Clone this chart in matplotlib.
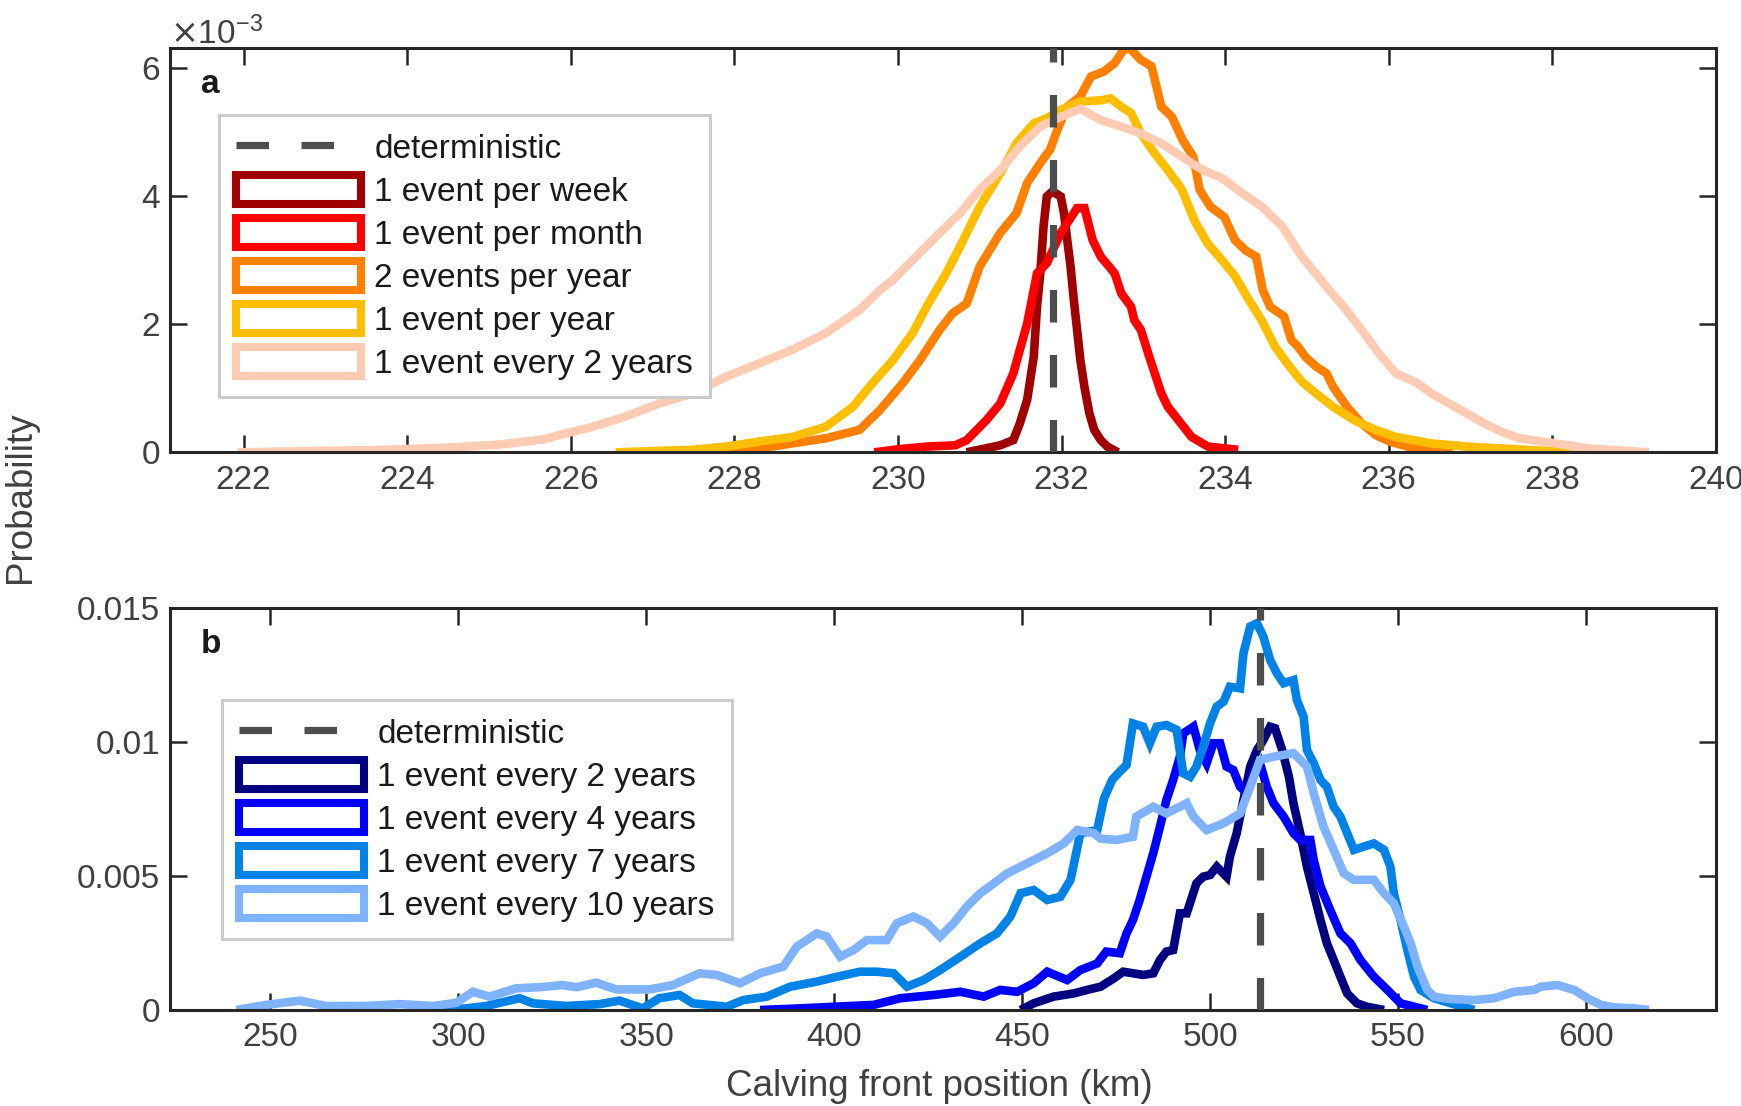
import matplotlib
matplotlib.use("Agg")
import matplotlib.pyplot as plt
from matplotlib.patches import Patch
from matplotlib.lines import Line2D
from matplotlib.ticker import ScalarFormatter, FuncFormatter, FixedLocator

plt.rcParams['font.family'] = ['Liberation Sans', 'DejaVu Sans']

# ---------------- Panel a data (x in km, probability in units of 1e-3) ----------------
deterministic_a = 231.9

week_x = [230.84, 231.25, 231.41, 231.49, 231.58, 231.66, 231.70, 231.74, 231.78, 231.82,
          231.89, 231.99, 232.03, 232.07, 232.11, 232.15, 232.19, 232.23, 232.28, 232.34,
          232.40, 232.48, 232.56, 232.69]
week_y = [0.0, 0.11, 0.19, 0.45, 0.82, 1.49, 2.27, 2.79, 3.52, 3.99,
          4.07, 3.99, 3.73, 3.31, 2.90, 2.38, 1.91, 1.44, 1.02, 0.61,
          0.35, 0.19, 0.09, 0.0]

month_x = [229.71, 230.02, 230.35, 230.70, 230.84, 231.08, 231.25, 231.41, 231.58, 231.70,
           231.82, 231.99, 232.19, 232.28, 232.38, 232.48, 232.58, 232.65, 232.73, 232.85,
           232.89, 232.97, 233.06, 233.14, 233.22, 233.30, 233.43, 233.59, 233.79, 234.16]
month_y = [0.0, 0.05, 0.09, 0.11, 0.19, 0.50, 0.76, 1.23, 2.01, 2.79,
           2.95, 3.42, 3.81, 3.81, 3.31, 3.05, 2.90, 2.79, 2.48, 2.27,
           2.06, 1.91, 1.54, 1.23, 0.92, 0.71, 0.50, 0.24, 0.09, 0.04]

twice_x = [227.53, 228.31, 228.71, 229.12, 229.53, 229.78, 230.06, 230.27, 230.51, 230.67,
           230.84, 231.00, 231.25, 231.45, 231.58, 231.74, 231.86, 231.95, 232.07, 232.23,
           232.36, 232.52, 232.65, 232.77, 232.85, 232.97, 233.10, 233.22, 233.35, 233.48,
           233.61, 233.69, 233.82, 233.99, 234.12, 234.25, 234.38, 234.46, 234.55, 234.72,
           234.81, 234.89, 234.98, 235.11, 235.24, 235.32, 235.49, 235.67, 235.84, 236.01,
           236.31, 236.78]
twice_y = [0.0, 0.06, 0.14, 0.22, 0.35, 0.66, 1.08, 1.44, 1.91, 2.17,
           2.32, 2.90, 3.42, 3.73, 4.20, 4.51, 4.72, 5.03, 5.39, 5.55,
           5.86, 5.94, 6.07, 6.30, 6.28, 6.12, 6.02, 5.39, 5.23, 4.87,
           4.61, 4.09, 3.83, 3.67, 3.31, 3.15, 3.05, 2.53, 2.27, 2.12,
           1.75, 1.65, 1.49, 1.34, 1.23, 1.02, 0.71, 0.45, 0.27, 0.17,
           0.06, 0.0]

yearly_x = [226.55, 227.49, 227.90, 228.31, 228.71, 229.12, 229.45, 229.69, 229.94, 230.18,
            230.35, 230.59, 230.76, 231.00, 231.25, 231.45, 231.66, 231.82, 231.99, 232.23,
            232.48, 232.60, 232.73, 232.85, 232.97, 233.14, 233.30, 233.47, 233.63, 233.79,
            233.96, 234.12, 234.28, 234.45, 234.61, 234.78, 234.94, 235.11, 235.32, 235.58,
            235.84, 236.09, 236.52, 236.95, 237.38, 238.24]
yearly_y = [0.0, 0.04, 0.09, 0.17, 0.24, 0.40, 0.71, 1.08, 1.44, 1.86,
            2.27, 2.79, 3.21, 3.83, 4.35, 4.82, 5.13, 5.21, 5.34, 5.47,
            5.49, 5.52, 5.39, 5.29, 4.97, 4.66, 4.40, 4.10, 3.60, 3.25,
            3.00, 2.75, 2.40, 2.05, 1.65, 1.35, 1.10, 0.92, 0.71, 0.50,
            0.35, 0.24, 0.14, 0.09, 0.06, 0.0]

biennial_x = [221.93, 223.76, 224.44, 225.12, 225.66, 225.86, 226.27, 226.67, 227.08, 227.49,
              227.90, 228.31, 228.71, 229.12, 229.53, 229.78, 229.94, 230.26, 230.51, 230.76,
              231.00, 231.25, 231.49, 231.74, 231.99, 232.23, 232.48, 232.73, 232.97, 233.22,
              233.47, 233.73, 233.96, 234.20, 234.45, 234.70, 234.94, 235.24, 235.45, 235.67,
              235.88, 236.09, 236.35, 236.52, 236.74, 236.95, 237.17, 237.38, 237.60, 238.03,
              238.45, 239.18]
biennial_y = [0.0, 0.04, 0.07, 0.12, 0.20, 0.27, 0.40, 0.56, 0.76, 0.92,
              1.18, 1.39, 1.60, 1.86, 2.22, 2.53, 2.69, 3.10, 3.42, 3.73,
              4.10, 4.40, 4.77, 5.08, 5.23, 5.36, 5.18, 5.08, 4.97, 4.82,
              4.61, 4.40, 4.28, 4.05, 3.83, 3.52, 3.05, 2.58, 2.27, 1.91,
              1.54, 1.23, 1.08, 0.92, 0.76, 0.61, 0.45, 0.32, 0.22, 0.14,
              0.06, 0.0]

labels_a = ['1 event per week', '1 event per month', '2 events per year',
            '1 event per year', '1 event every 2 years']
colors_a = ['#A00000', '#FF0000', '#FF8000', '#FFBF00', '#FFCBB3']

# ---------------- Panel b data (x in km, probability in units of 1e-3) ----------------
deterministic_b = 513.3

b2_x = [449.6, 453.1, 458.4, 463.8, 467.3, 470.9, 474.4, 476.9, 482.2, 484.9,
        486.7, 488.4, 490.2, 492.0, 493.8, 496.4, 498.2, 500.0, 501.8, 504.4,
        505.3, 507.1, 508.9, 510.7, 512.5, 514.2, 516.0, 517.3, 519.2, 521.0,
        522.2, 524.0, 525.8, 527.6, 529.4, 531.1, 532.9, 534.7, 536.5, 539.1,
        541.8, 546.3]
b2_y = [0.0, 0.25, 0.50, 0.62, 0.75, 0.87, 1.18, 1.43, 1.31, 1.37,
        1.87, 2.18, 2.24, 3.61, 3.61, 4.73, 4.98, 5.04, 5.35, 4.98,
        5.73, 6.60, 7.84, 9.09, 9.71, 10.08, 10.58, 10.52, 9.71, 8.71,
        7.72, 6.60, 5.35, 4.36, 3.36, 2.49, 1.87, 1.24, 0.62, 0.25,
        0.12, 0.0]

b4_x = [380.3, 390.9, 399.8, 410.5, 417.6, 426.5, 433.6, 439.8, 444.2, 448.7,
        453.1, 456.7, 462.0, 465.5, 470.0, 472.4, 476.0, 477.8, 479.5, 481.3,
        483.1, 484.9, 486.7, 488.4, 490.2, 492.0, 492.9, 495.6, 497.3, 499.1,
        500.9, 502.7, 504.4, 506.2, 508.0, 509.8, 511.6, 513.3, 515.1, 516.9,
        519.6, 522.2, 524.0, 526.7, 527.6, 529.4, 532.0, 534.7, 537.4, 540.0,
        543.6, 547.2, 550.7, 557.8]
b4_y = [0.0, 0.06, 0.12, 0.19, 0.44, 0.56, 0.68, 0.50, 0.75, 0.68,
        1.00, 1.43, 1.12, 1.49, 1.74, 2.18, 2.12, 2.86, 3.36, 4.11,
        4.98, 5.85, 6.85, 7.84, 8.59, 9.46, 10.33, 10.58, 9.71, 9.21,
        9.96, 9.96, 9.09, 8.96, 8.34, 8.09, 8.84, 9.21, 8.34, 7.72,
        7.22, 6.60, 6.35, 6.35, 5.60, 4.61, 3.73, 2.86, 2.49, 1.87,
        1.24, 0.75, 0.25, 0.0]

b7_x = [295.0, 302.1, 307.4, 316.3, 319.9, 328.7, 337.6, 342.9, 349.1, 353.5,
        358.9, 362.4, 369.5, 371.4, 375.8, 382.1, 388.3, 395.4, 400.7, 406.9,
        411.4, 415.8, 419.4, 423.8, 428.2, 433.6, 438.9, 443.3, 446.9, 449.6,
        453.1, 456.7, 460.2, 462.9, 465.5, 470.0, 471.8, 474.0, 476.0, 477.8,
        479.5, 482.2, 484.0, 485.8, 488.4, 491.1, 492.9, 494.7, 496.4, 498.2,
        500.0, 501.8, 503.6, 505.3, 508.0, 508.9, 510.7, 512.5, 514.2, 516.0,
        517.8, 519.6, 522.2, 523.1, 524.9, 525.8, 527.6, 529.4, 531.1, 532.9,
        534.7, 536.5, 538.3, 540.9, 543.6, 546.3, 548.0, 548.9, 550.7, 552.5,
        554.3, 556.0, 559.6, 564.1, 570.3]
b7_y = [0.0, 0.06, 0.15, 0.44, 0.25, 0.15, 0.22, 0.35, 0.06, 0.44,
        0.56, 0.25, 0.15, 0.12, 0.37, 0.50, 0.87, 1.06, 1.24, 1.43,
        1.43, 1.37, 0.87, 1.12, 1.49, 1.99, 2.49, 2.86, 3.49, 4.36,
        4.48, 4.11, 4.23, 4.86, 6.60, 6.72, 7.90, 8.60, 8.90, 9.15,
        10.70, 10.58, 9.96, 10.58, 10.64, 10.46, 8.84, 8.71, 9.09, 9.83,
        10.70, 11.33, 11.51, 12.07, 12.01, 13.32, 14.32, 14.44, 13.94, 13.07,
        12.57, 12.20, 12.32, 11.58, 10.95, 9.71, 9.21, 8.59, 8.34, 7.59,
        7.22, 6.60, 5.98, 6.10, 6.22, 5.98, 5.35, 4.36, 3.36, 2.24,
        1.24, 0.75, 0.44, 0.25, 0.0]

b10_x = [241.0, 248.9, 257.8, 264.9, 275.5, 284.4, 293.3, 299.5, 303.9, 308.3,
         315.4, 321.6, 327.8, 331.4, 336.7, 342.0, 350.9, 357.1, 364.2, 368.7,
         375.0, 380.3, 386.5, 390.1, 395.4, 398.0, 401.6, 405.2, 408.7, 414.0,
         416.7, 421.1, 424.7, 428.2, 431.8, 435.3, 438.9, 442.5, 446.0, 449.6,
         453.1, 456.7, 461.1, 464.7, 469.1, 470.9, 475.1, 479.5, 480.4, 484.9,
         488.4, 493.8, 495.6, 499.1, 503.6, 508.0, 510.7, 513.3, 516.9, 522.2,
         525.8, 527.6, 530.2, 532.9, 535.6, 538.3, 543.6, 546.3, 548.9, 551.6,
         553.4, 555.2, 557.8, 559.6, 563.0, 570.3, 575.6, 580.9, 586.3, 588.0,
         592.5, 596.9, 600.4, 604.0, 607.5, 612.9, 616.8]
b10_y = [0.0, 0.19, 0.35, 0.15, 0.15, 0.22, 0.15, 0.27, 0.68, 0.50,
         0.81, 0.85, 0.93, 0.85, 1.02, 0.77, 0.77, 0.93, 1.37, 1.31,
         1.00, 1.37, 1.62, 2.37, 2.86, 2.74, 1.99, 2.24, 2.61, 2.61,
         3.24, 3.49, 3.24, 2.74, 3.24, 3.86, 4.36, 4.73, 5.10, 5.35,
         5.60, 5.85, 6.22, 6.72, 6.60, 6.40, 6.35, 6.47, 7.22, 7.59,
         7.34, 7.72, 7.22, 6.72, 6.97, 7.34, 8.34, 9.34, 9.46, 9.59,
         9.09, 8.09, 6.85, 5.98, 5.10, 4.86, 4.86, 4.36, 3.98, 3.11,
         2.49, 1.62, 0.75, 0.50, 0.42, 0.37, 0.44, 0.68, 0.75, 0.87,
         0.93, 0.75, 0.44, 0.19, 0.10, 0.06, 0.0]

labels_b = ['1 event every 2 years', '1 event every 4 years',
            '1 event every 7 years', '1 event every 10 years']
colors_b = ['#000080', '#0000FF', '#0082E6', '#80B3FF']

xticks_a = [222, 224, 226, 228, 230, 232, 234, 236, 238, 240]
yticks_a = [0, 0.002, 0.004, 0.006]
xticks_b = [250, 300, 350, 400, 450, 500, 550, 600]
yticks_b = [0, 0.005, 0.01, 0.015]

# ---------------- styling ----------------
AX_COLOR = '#262626'
TXT_COLOR = '#404040'
DET_COLOR = '#4D4D4D'
LW = 6.2
DASH = (0, (4.5, 4.5))
FS = 24

fig = plt.figure(figsize=(17.41, 11.06), dpi=100)
ax1 = fig.add_axes([0.0976, 0.591, 0.888, 0.3653])
ax2 = fig.add_axes([0.0976, 0.0868, 0.888, 0.3632])


def style_axes(ax):
    for s in ax.spines.values():
        s.set_linewidth(2.2)
        s.set_color(AX_COLOR)
    ax.tick_params(direction='in', length=12, width=1.8, color=AX_COLOR,
                   top=True, right=True, labelsize=FS, labelcolor=TXT_COLOR)
    ax.tick_params(axis='x', pad=9)
    ax.tick_params(axis='y', pad=7)


series_a = [(week_x, week_y), (month_x, month_y), (twice_x, twice_y),
            (yearly_x, yearly_y), (biennial_x, biennial_y)]
for (xs, ys), c in zip(series_a, colors_a):
    ax1.plot(xs, [v * 1e-3 for v in ys], color=c, lw=LW, solid_joinstyle='miter',
             solid_capstyle='butt')
ax1.set_xlim(221.1, 240)
ax1.set_ylim(0, 0.0063)
ax1.plot([deterministic_a, deterministic_a], [0, 0.0063], color=DET_COLOR, lw=5.2,
         linestyle=DASH, zorder=5)
ax1.xaxis.set_major_locator(FixedLocator(xticks_a))
ax1.yaxis.set_major_locator(FixedLocator(yticks_a))
fmt = ScalarFormatter(useMathText=True)
fmt.set_powerlimits((-3, -3))
ax1.yaxis.set_major_formatter(fmt)
style_axes(ax1)
ax1.yaxis.get_offset_text().set_fontsize(FS)
ax1.yaxis.get_offset_text().set_color(TXT_COLOR)

series_b = [(b2_x, b2_y), (b4_x, b4_y), (b7_x, b7_y), (b10_x, b10_y)]
for (xs, ys), c in zip(series_b, colors_b):
    ax2.plot(xs, [v * 1e-3 for v in ys], color=c, lw=LW, solid_joinstyle='miter',
             solid_capstyle='butt')
ax2.set_xlim(223.3, 634.6)
ax2.set_ylim(0, 0.015)
ax2.plot([deterministic_b, deterministic_b], [0, 0.015], color=DET_COLOR, lw=5.2,
         linestyle=DASH, zorder=5)
ax2.xaxis.set_major_locator(FixedLocator(xticks_b))
ax2.yaxis.set_major_locator(FixedLocator(yticks_b))
ax2.yaxis.set_major_formatter(FuncFormatter(lambda v, p: f'{v:g}'))
style_axes(ax2)

# panel letters
ax1.text(0.02, 0.91, 'a', transform=ax1.transAxes, fontsize=FS, fontweight='bold',
         color='#1a1a1a', va='center', ha='left')
ax2.text(0.02, 0.91, 'b', transform=ax2.transAxes, fontsize=FS, fontweight='bold',
         color='#1a1a1a', va='center', ha='left')


def make_legend(ax, labels, colors, anchor):
    handles = [Line2D([], [], color=DET_COLOR, lw=5.2, linestyle=DASH)]
    for c in colors:
        handles.append(Patch(facecolor='white', edgecolor=c, linewidth=5.8))
    leg = ax.legend(handles, ['deterministic'] + labels, loc='upper left',
                    bbox_to_anchor=anchor, borderaxespad=0, fontsize=FS,
                    handlelength=3.75, handleheight=1.0, handletextpad=0.4,
                    labelspacing=0.29, borderpad=0.5, fancybox=False, framealpha=1,
                    edgecolor='#CCCCCC')
    leg.get_frame().set_linewidth(2.2)
    for t in leg.get_texts():
        t.set_color('#1a1a1a')
    return leg


make_legend(ax1, labels_a, colors_a, (0.032, 0.835))
make_legend(ax2, labels_b, colors_b, (0.034, 0.772))

fig.text(0.0115, 0.55, 'Probability', rotation=90, ha='center', va='center',
         fontsize=26.5, color=TXT_COLOR)
fig.text(0.5395, 0.018, 'Calving front position (km)', ha='center', va='center',
         fontsize=26.5, color=TXT_COLOR)

fig.savefig('out.png', dpi=100)
